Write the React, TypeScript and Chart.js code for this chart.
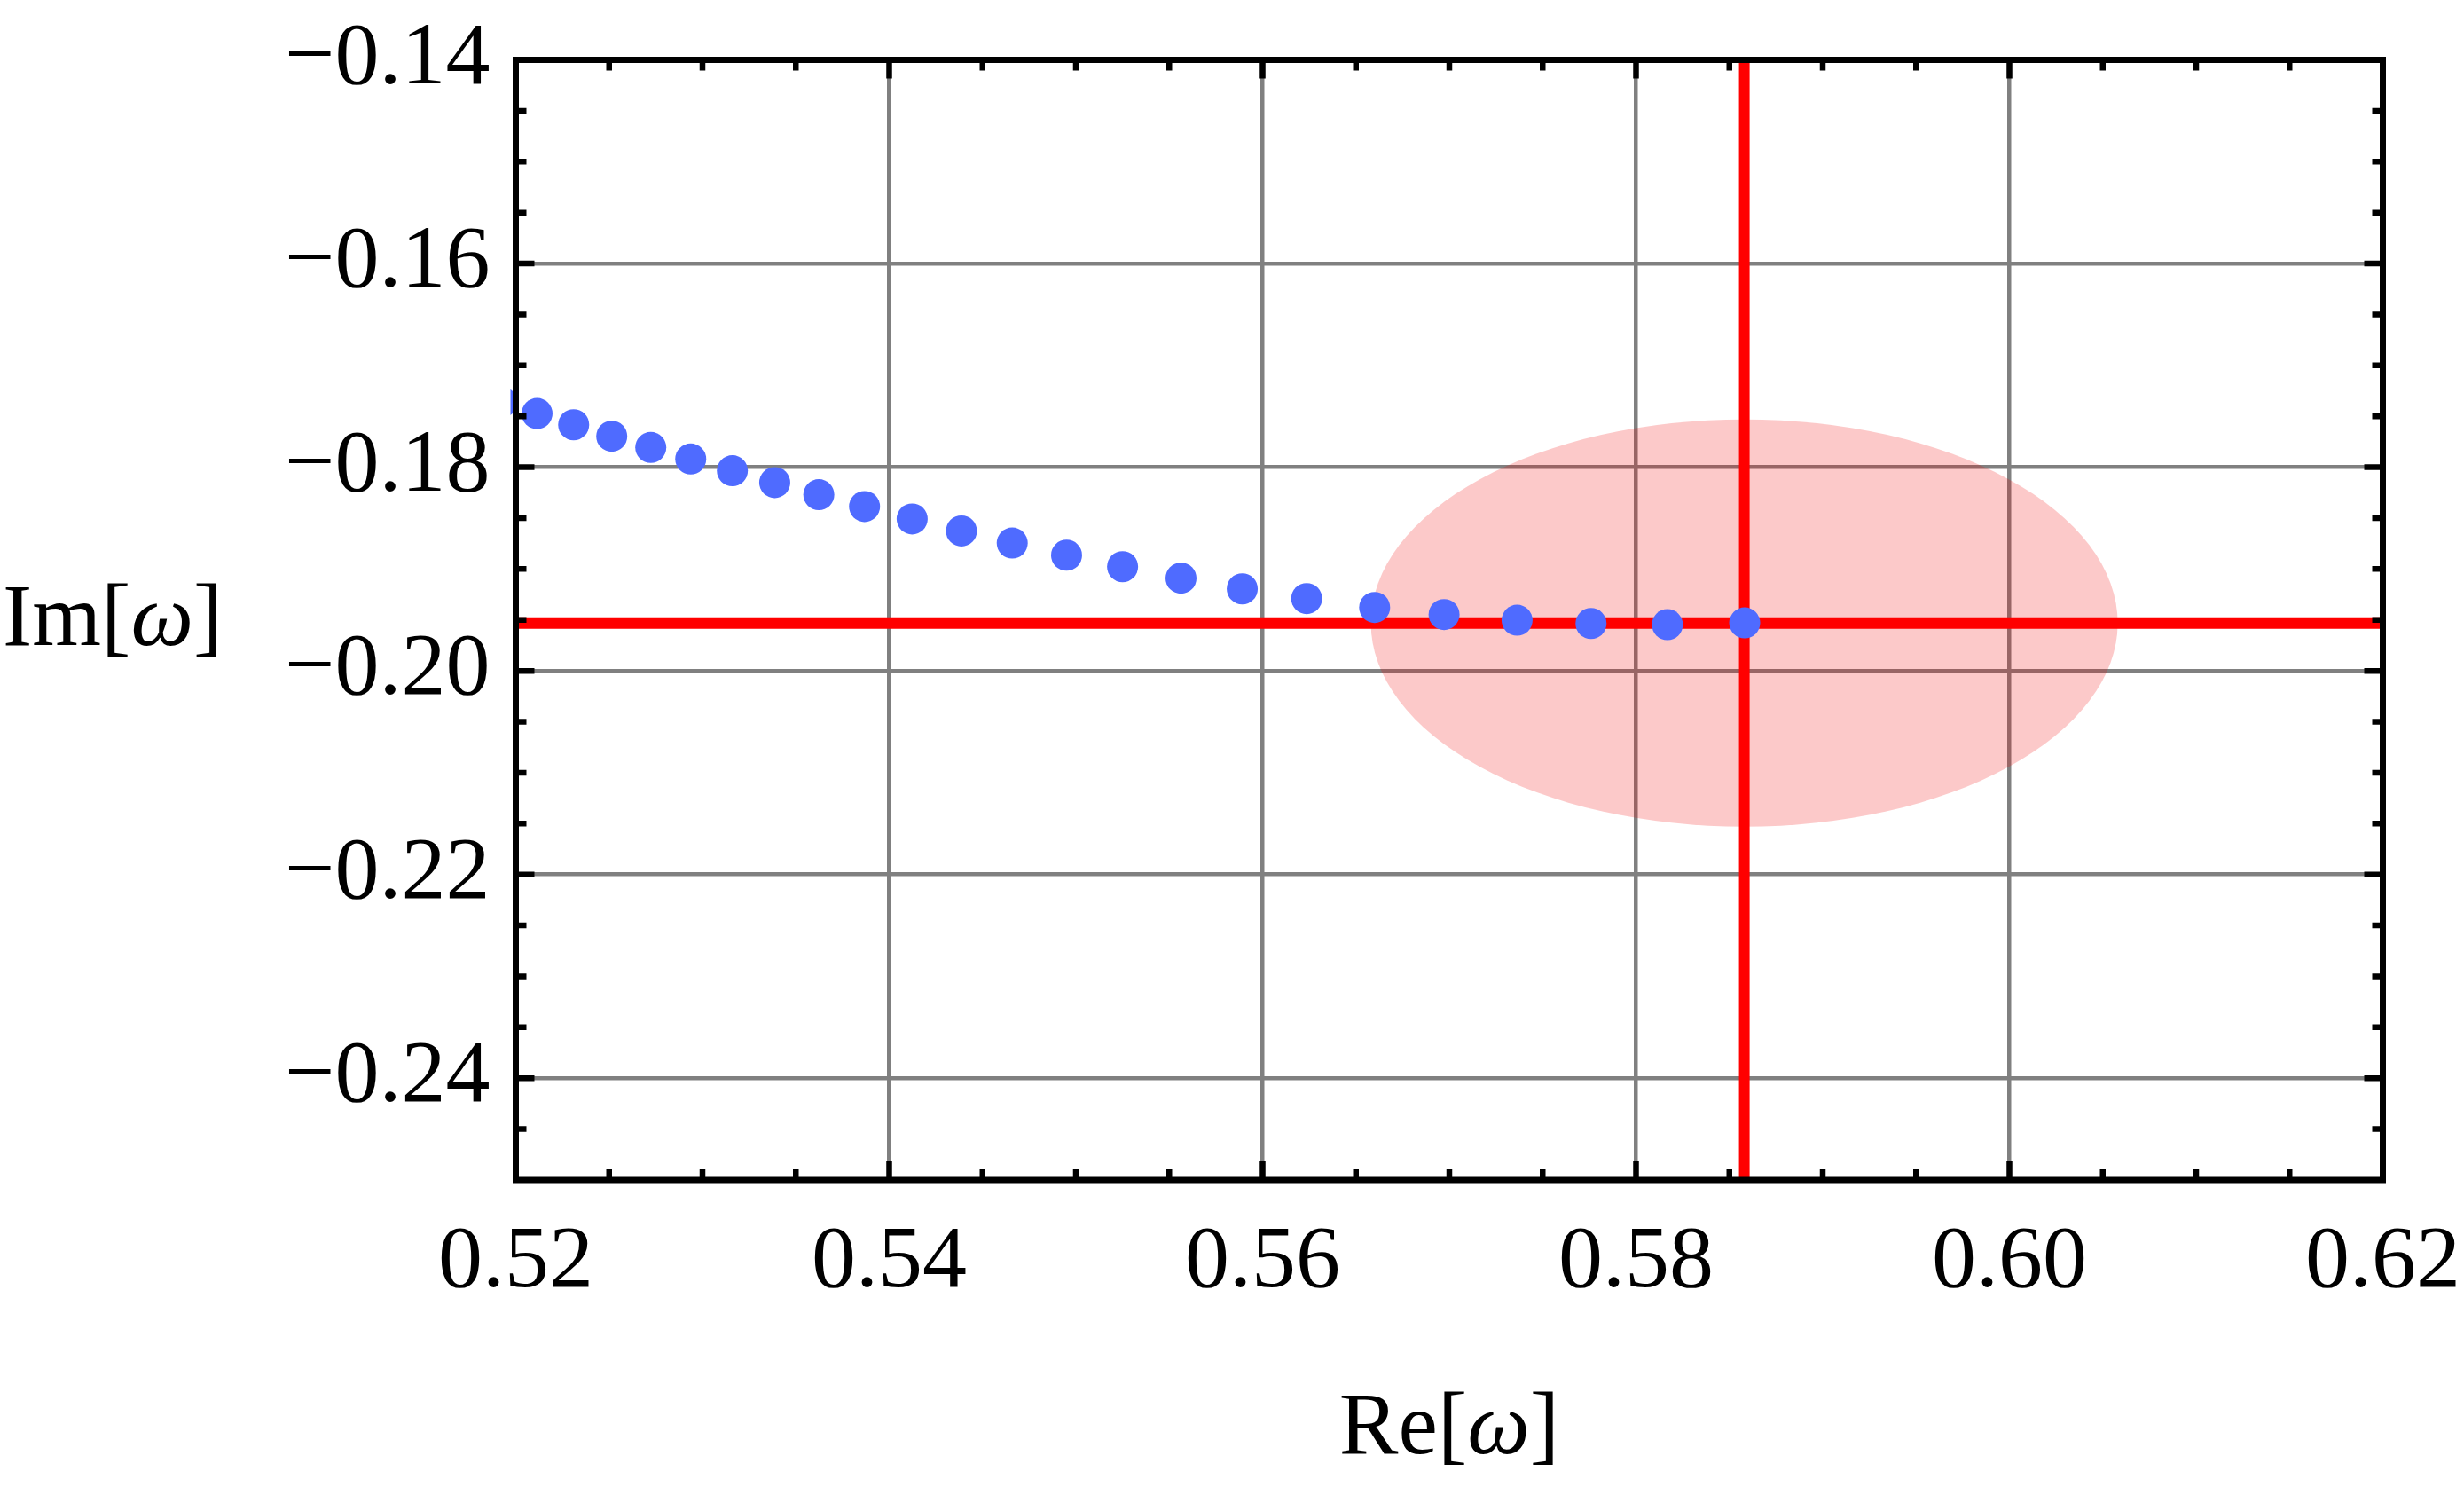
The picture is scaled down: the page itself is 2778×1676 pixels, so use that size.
import React, { useEffect, useRef } from "react";
import { Chart, registerables } from "chart.js";

Chart.register(...registerables);

// ---- data ----
const reValues = [
  0.51925, 0.52114, 0.5231, 0.52514, 0.52723, 0.52937, 0.5316, 0.53387, 0.53623,
  0.53868, 0.54123, 0.54387, 0.54659, 0.5495, 0.5525, 0.55563, 0.55891, 0.56236,
  0.566, 0.56972, 0.57363, 0.57759, 0.58168, 0.58582,
];
const imValues = [
  -0.17361, -0.17473, -0.17583, -0.17696, -0.17806, -0.17919, -0.18035, -0.18151,
  -0.1827, -0.18386, -0.18508, -0.18626, -0.18745, -0.18864, -0.18977, -0.1909,
  -0.19195, -0.1929, -0.19377, -0.19447, -0.19503, -0.19535, -0.19546, -0.19529,
];
const xTickValues = [0.52, 0.54, 0.56, 0.58, 0.6, 0.62];
const yTickValues = [-0.24, -0.22, -0.2, -0.18, -0.16, -0.14];
const xMin = 0.52;
const xMax = 0.62;
const yMin = -0.25;
const yMax = -0.14;
const minorStep = 0.005;
const crossRe = 0.5858;
const crossIm = -0.1953;
const ellipseRadiusRe = 0.02;
const ellipseRadiusIm = 0.02;
const xTitle = ["Re[", "ω", "]"];
const yTitle = ["Im[", "ω", "]"];

const FONT = "'Liberation Serif', 'Times New Roman', serif";

const fmt = (v: number) => (v < 0 ? "\u2212" : "") + Math.abs(v).toFixed(2);

const decorPlugin = {
  id: "decor",
  beforeDatasetsDraw(chart: any) {
    const { ctx, chartArea, scales } = chart;
    const xs = scales.x;
    const ys = scales.y;
    const cx = xs.getPixelForValue(crossRe);
    const cy = ys.getPixelForValue(crossIm);
    const rx = Math.abs(xs.getPixelForValue(crossRe + ellipseRadiusRe) - cx);
    const ry = Math.abs(ys.getPixelForValue(crossIm + ellipseRadiusIm) - cy);
    ctx.save();
    ctx.beginPath();
    ctx.rect(chartArea.left, chartArea.top, chartArea.right - chartArea.left, chartArea.bottom - chartArea.top);
    ctx.clip();
    ctx.beginPath();
    ctx.ellipse(cx, cy, rx, ry, 0, 0, Math.PI * 2);
    ctx.fillStyle = "rgba(240,0,0,0.21)";
    ctx.fill();
    ctx.restore();
  },
  afterDraw(chart: any) {
    const { ctx, chartArea, scales } = chart;
    const xs = scales.x;
    const ys = scales.y;
    const { left, right, top, bottom } = chartArea;
    ctx.save();
    ctx.strokeStyle = "#000";
    ctx.lineCap = "butt";
    // ticks
    ctx.lineWidth = 6.5;
    const nx = Math.round((xMax - xMin) / minorStep);
    for (let i = 1; i < nx; i++) {
      const v = xMin + i * minorStep;
      const major = i % 4 === 0;
      const len = major ? 21 : 12;
      const px = xs.getPixelForValue(v);
      ctx.beginPath();
      ctx.moveTo(px, bottom);
      ctx.lineTo(px, bottom - len);
      ctx.moveTo(px, top);
      ctx.lineTo(px, top + len);
      ctx.stroke();
    }
    const ny = Math.round((yMax - yMin) / minorStep);
    for (let i = 1; i < ny; i++) {
      const v = yMin + i * minorStep;
      const major = (i - 2) % 4 === 0;
      const len = major ? 21 : 12;
      const py = ys.getPixelForValue(v);
      ctx.beginPath();
      ctx.moveTo(left, py);
      ctx.lineTo(left + len, py);
      ctx.moveTo(right, py);
      ctx.lineTo(right - len, py);
      ctx.stroke();
    }
    // frame
    ctx.lineWidth = 7;
    ctx.strokeRect(left, top, right - left, bottom - top);

    // axis titles
    const drawTitle = (parts: string[], x: number, baseline: number, align: "left" | "center") => {
      const normal = `100px ${FONT}`;
      const italic = `italic 100px ${FONT}`;
      const fonts = [normal, italic, normal];
      const widths = parts.map((p, i) => {
        ctx.font = fonts[i];
        return ctx.measureText(p).width;
      });
      const total = widths.reduce((a, b) => a + b, 0);
      let cur = align === "center" ? x - total / 2 : x;
      ctx.fillStyle = "#000";
      ctx.textBaseline = "alphabetic";
      ctx.textAlign = "left";
      parts.forEach((p, i) => {
        ctx.font = fonts[i];
        ctx.fillText(p, cur, baseline);
        cur += widths[i];
      });
    };
    drawTitle(xTitle, (left + right) / 2, 1638, "center");
    drawTitle(yTitle, 3, 727, "left");
    ctx.restore();
  },
};

export default function App() {
  const canvasRef = useRef<HTMLCanvasElement | null>(null);

  useEffect(() => {
    if (!canvasRef.current) return;
    const points = reValues.map((x, i) => ({ x, y: imValues[i] }));
    const chart = new Chart(canvasRef.current, {
      type: "scatter",
      data: {
        datasets: [
          {
            data: points,
            backgroundColor: "#4F6BFF",
            borderWidth: 0,
            pointRadius: 17.5,
            pointHoverRadius: 17.5,
            order: 0,
            clip: { left: 6, right: 0, top: 0, bottom: 0 } as any,
          },
          {
            data: [
              { x: xMin, y: crossIm },
              { x: xMax, y: crossIm },
            ],
            showLine: true,
            borderColor: "#FF0000",
            borderWidth: 13,
            pointRadius: 0,
            order: 1,
            clip: { left: 5, right: 0, top: 0, bottom: 0 } as any,
          },
          {
            data: [
              { x: crossRe, y: yMin },
              { x: crossRe, y: yMax },
            ],
            showLine: true,
            borderColor: "#FF0000",
            borderWidth: 12,
            pointRadius: 0,
            order: 1,
            clip: { left: 0, right: 0, top: 0, bottom: 5 } as any,
          },
        ],
      },
      options: {
        animation: false,
        responsive: true,
        maintainAspectRatio: false,
        devicePixelRatio: 1,
        layout: { autoPadding: false, padding: { left: 0, right: 91.5, top: 67.5, bottom: 0 } },
        plugins: { legend: { display: false }, tooltip: { enabled: false } },
        events: [],
        scales: {
          x: {
            type: "linear",
            min: xMin,
            max: xMax,
            afterBuildTicks: (scale: any) => {
              scale.ticks = xTickValues.map((value) => ({ value }));
            },
            afterFit: (scale: any) => {
              scale.height = 346;
              scale.paddingLeft = 0;
              scale.paddingRight = 0;
            },
            grid: { color: "#808080", lineWidth: 4.5, drawTicks: false },
            border: { display: false },
            ticks: {
              autoSkip: false,
              maxRotation: 0,
              padding: 34,
              color: "#000",
              font: { family: FONT, size: 100 },
              callback: (v: any) => fmt(Number(v)),
            },
          },
          y: {
            type: "linear",
            min: yMin,
            max: yMax,
            afterBuildTicks: (scale: any) => {
              scale.ticks = yTickValues.map((value) => ({ value }));
            },
            afterFit: (scale: any) => {
              scale.width = 581.5;
              scale.paddingTop = 0;
              scale.paddingBottom = 0;
            },
            grid: { color: "#808080", lineWidth: 4.5, drawTicks: false },
            border: { display: false },
            ticks: {
              autoSkip: false,
              padding: 29,
              color: "#000",
              font: { family: FONT, size: 100 },
              callback: (v: any) => fmt(Number(v)),
            },
          },
        },
      },
      plugins: [decorPlugin],
    });
    return () => chart.destroy();
  }, []);

  return (
    <div style={{ position: "fixed", left: 0, top: 0, width: 2778, height: 1676, background: "#fff" }}>
      <canvas ref={canvasRef} />
    </div>
  );
}
